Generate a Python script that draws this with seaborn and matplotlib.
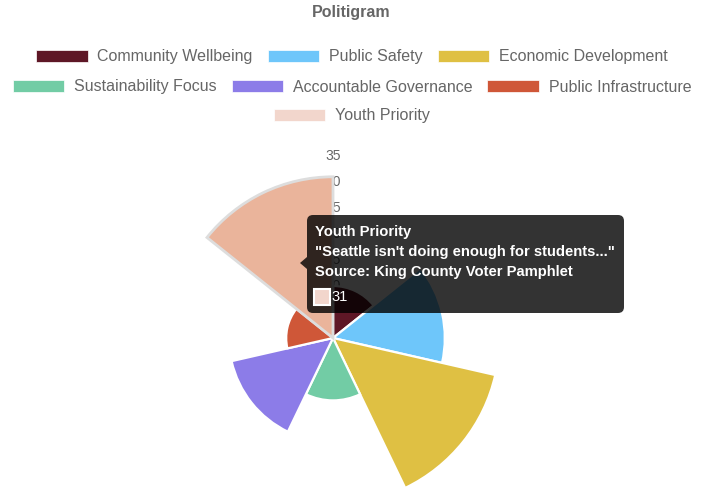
import numpy as np
import matplotlib
matplotlib.use('Agg')
import matplotlib.pyplot as plt
from matplotlib.patches import Patch, FancyBboxPatch, Rectangle, Polygon
import seaborn as sns

# values (Youth Priority = 31 from tooltip)
categories = ['Community Wellbeing', 'Public Safety', 'Economic Development',
              'Sustainability Focus', 'Accountable Governance', 'Public Infrastructure',
              'Youth Priority']
values = [10, 21.5, 32, 12, 20, 9, 31]
legend_colors = ['#5E1726', '#6EC6FA', '#DFC043', '#72CCA5', '#8C7CE8', '#CF5738', '#F2D6CC']
# the hovered slice is drawn darker than its legend swatch
wedge_colors = legend_colors[:-1] + ['#EAB49B']
r_ticks = [5, 10, 15, 20, 25, 30, 35]

sns.set_theme(style='white')
plt.rcParams['font.family'] = ['Liberation Sans', 'DejaVu Sans']
grey = '#666666'

fig = plt.figure(figsize=(7.02, 4.88), dpi=100)
W, H = 702, 488

# polar axes: centre at (333, 338) px, r=35 -> 182 px
cx, cy, R = 333, 338, 182
ax = fig.add_axes([(cx - R) / W, (H - cy - R) / H, 2 * R / W, 2 * R / H], projection='polar')
ax.set_theta_zero_location('N')
ax.set_theta_direction(-1)
ax.set_ylim(0, 35)

n = len(values)
width = 2 * np.pi / n
theta = (np.arange(n) + 0.5) * width
bars = ax.bar(theta, values, width=width, color=wedge_colors,
              edgecolor='white', linewidth=1.6, zorder=2)
bars[-1].set_edgecolor('#DDDDDD')
bars[-1].set_linewidth(2.0)

for r in r_ticks:
    ax.text(0, r, str(r), ha='center', va='center', fontsize=10, color=grey, zorder=1)

ax.grid(False)
ax.set_xticks([])
ax.set_yticks([])
ax.spines['polar'].set_visible(False)
ax.set_facecolor('none')

# title
fig.text(351 / W, 1 - 13 / H, 'Politigram', ha='center', va='center',
         fontsize=11.5, fontweight='bold', color=grey)

# legend, three centred rows like chart.js
handles = [Patch(facecolor=c, edgecolor='white', linewidth=0.5) for c in legend_colors]
rows = [(0, 3, 57), (3, 6, 87), (6, 7, 116)]
for a, b, y in rows:
    fig.legend(handles[a:b], categories[a:b], loc='center',
               bbox_to_anchor=(352 / W, 1 - y / H), ncol=b - a, frameon=False,
               fontsize=11.5, labelcolor=grey, handlelength=3.2, handleheight=0.75,
               handletextpad=0.62, columnspacing=0.95, borderpad=0, borderaxespad=0)

# tooltip overlay in pixel coordinates
ov = fig.add_axes([0, 0, 1, 1], zorder=10)
ov.set_xlim(0, W)
ov.set_ylim(H, 0)
ov.axis('off')
ov.patch.set_alpha(0)

tip_bg = (0, 0, 0, 0.8)
ov.add_patch(FancyBboxPatch((307, 215), 317, 98, boxstyle='round,pad=0,rounding_size=6',
                            facecolor=tip_bg, edgecolor='none'))
ov.add_patch(Polygon([(307, 257), (300, 263), (307, 269)], closed=True,
                     facecolor=tip_bg, edgecolor='none'))
tip_lines = ['Youth Priority', '"Seattle isn\'t doing enough for students..."',
             'Source: King County Voter Pamphlet']
for i, line in enumerate(tip_lines):
    ov.text(315, 232 + 20 * i, line, ha='left', va='center', fontsize=10.6,
            fontweight='bold', color='white')
ov.add_patch(Rectangle((314, 289), 16, 16, facecolor=legend_colors[-1],
                       edgecolor='white', linewidth=1.5))
ov.text(331, 297, str(values[-1]), ha='left', va='center', fontsize=10.6, color='white')

fig.savefig('out.png', dpi=100)
